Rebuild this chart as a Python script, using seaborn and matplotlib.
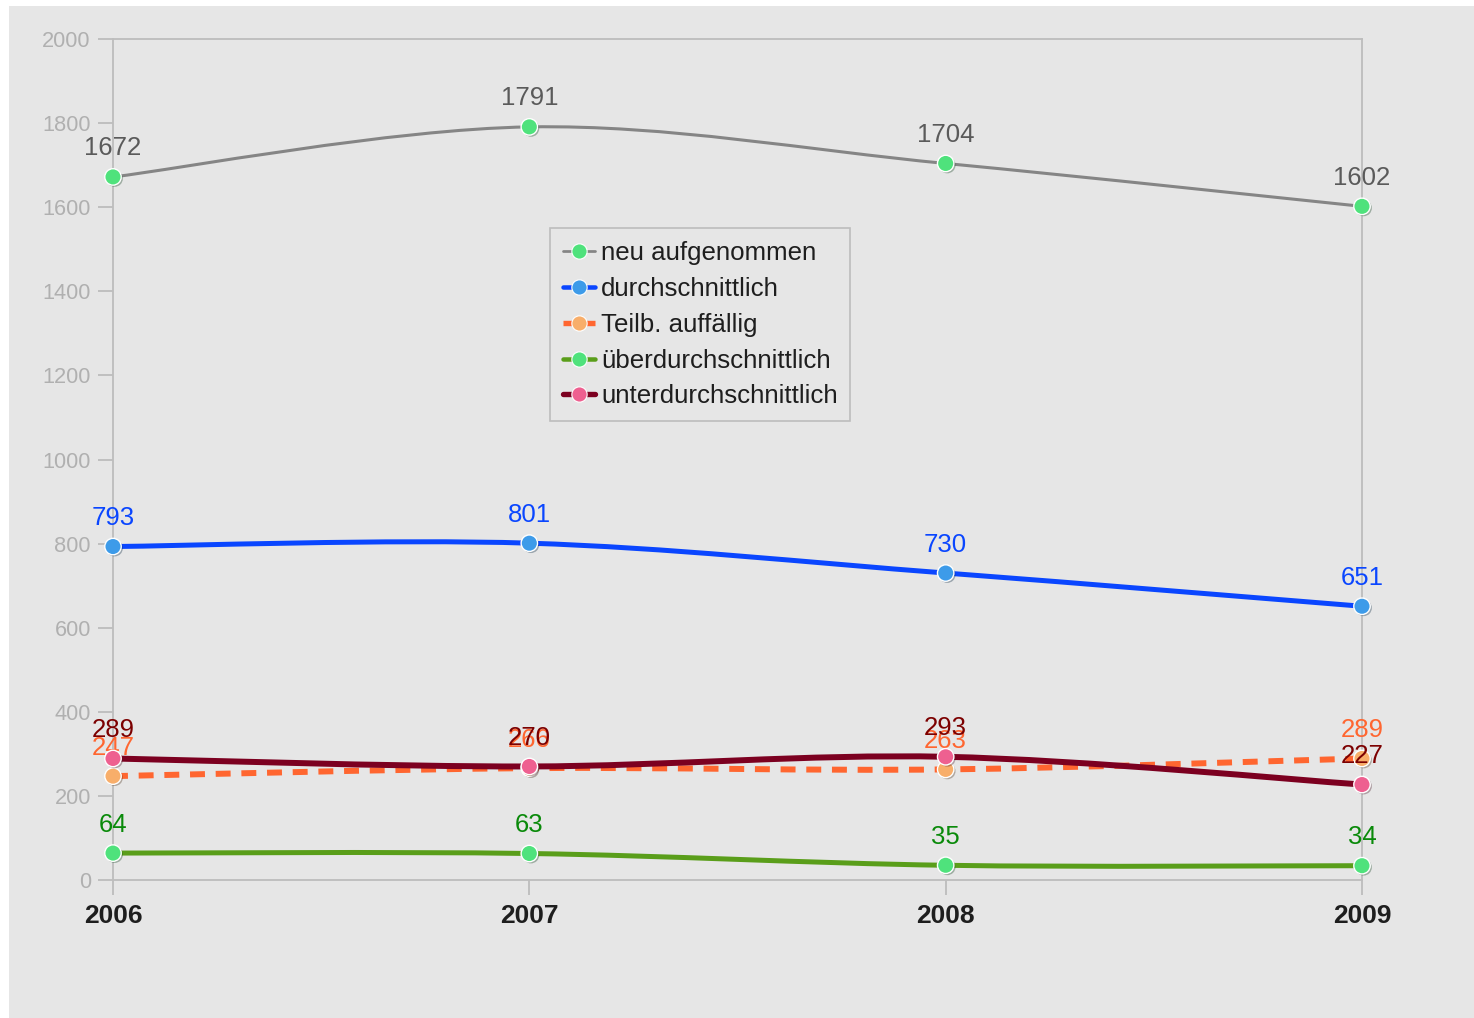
import numpy as np
import pandas as pd
import seaborn as sns
import matplotlib.pyplot as plt
from matplotlib.path import Path
from matplotlib.patches import PathPatch, Rectangle
from matplotlib.lines import Line2D
import matplotlib.patheffects as pe

# data
years = [2006, 2007, 2008, 2009]
series_names = ["neu aufgenommen", "durchschnittlich", "Teilb. auffällig",
                "überdurchschnittlich", "unterdurchschnittlich"]
neu_aufgenommen = [1672, 1791, 1704, 1602]
durchschnittlich = [793, 801, 730, 651]
teilb_auffaellig = [247, 266, 263, 289]
ueberdurchschnittlich = [64, 63, 35, 34]
unterdurchschnittlich = [289, 270, 293, 227]
y_ticks = list(range(0, 2001, 200))

values = [neu_aufgenommen, durchschnittlich, teilb_auffaellig,
          ueberdurchschnittlich, unterdurchschnittlich]

# styles per series
line_colors = ["#858585", "#0a46ff", "#ff6630", "#5a9e1a", "#7c0020"]
marker_colors = ["#4fe27c", "#3d9be9", "#f8ae6a", "#4fe27c", "#ee6090"]
label_colors = ["#5a5a5a", "#0a46ff", "#ff6630", "#0a8a0a", "#7c0000"]
line_widths = [2.2, 3.6, 4.3, 3.6, 4.3]
line_styles = ["-", "-", (0, (2.5, 1.8)), "-", "-"]

df = pd.DataFrame({
    "year": years * len(series_names),
    "value": sum(values, []),
    "series": [s for s in series_names for _ in years],
})

sns.set_style("white")
plt.rcParams["font.family"] = ["Liberation Sans", "DejaVu Sans"]

bg = "#e6e6e6"
fig = plt.figure(figsize=(14.74, 10.18), dpi=100, facecolor="white")
fig.patches.append(Rectangle((9 / 1474, 0), 1, 1 - 6 / 1018, transform=fig.transFigure,
                             facecolor=bg, edgecolor="none", zorder=-10))
ax = fig.add_axes([113 / 1474, 138 / 1018, 1249 / 1474, 841 / 1018])
ax.set_facecolor(bg)


def smooth_path(xs, ys):
    # Catmull-Rom style bezier through the data points
    pts = np.column_stack([xs, ys]).astype(float)
    verts = [pts[0]]
    codes = [Path.MOVETO]
    n = len(pts)
    for i in range(n - 1):
        p0 = pts[i - 1] if i > 0 else pts[i]
        p1 = pts[i]
        p2 = pts[i + 1]
        p3 = pts[i + 2] if i + 2 < n else pts[i + 1]
        c1 = p1 + (p2 - p0) / 6
        c2 = p2 - (p3 - p1) / 6
        verts += [c1, c2, p2]
        codes += [Path.CURVE4] * 3
    return Path(verts, codes)


shadow = [pe.SimplePatchShadow(offset=(1.2, -1.2), alpha=0.35), pe.Normal()]

for i, name in enumerate(series_names):
    patch = PathPatch(smooth_path(years, values[i]), facecolor="none",
                      edgecolor=line_colors[i], lw=line_widths[i],
                      linestyle=line_styles[i], capstyle="butt",
                      zorder=2 + i, clip_on=False)
    ax.add_patch(patch)

for i, name in enumerate(series_names):
    sub = df[df["series"] == name]
    sns.scatterplot(data=sub, x="year", y="value", ax=ax, s=140,
                    color=marker_colors[i], edgecolor="white", linewidth=1.0,
                    zorder=10 + i, clip_on=False, legend=False,
                    path_effects=shadow)
    for x, v in zip(years, values[i]):
        ax.annotate(str(v), (x, v), xytext=(0, 15.5), textcoords="offset points",
                    ha="center", va="baseline", fontsize=18.5,
                    color=label_colors[i], zorder=8 + i, annotation_clip=False)

ax.set_xlim(2006, 2009)
ax.set_ylim(0, 2000)
ax.set_xticks(years)
ax.set_xticklabels([str(y) for y in years], fontsize=19, fontweight="bold",
                   color="#1e1e1e")
ax.set_yticks(y_ticks)
ax.set_yticklabels([str(t) for t in y_ticks], fontsize=15.7, color="#b0b0b0")
ax.tick_params(axis="both", direction="out", length=11, width=1.3,
               color="#bdbdbd", left=True, bottom=True)
ax.tick_params(axis="x", pad=6)
ax.tick_params(axis="y", pad=5)
ax.set_xlabel("")
ax.set_ylabel("")
for sp in ax.spines.values():
    sp.set_visible(True)
    sp.set_color("#bdbdbd")
    sp.set_linewidth(1.3)

handles = [Line2D([0], [0], color=line_colors[i], lw=line_widths[i] * 0.9,
                  linestyle=line_styles[i], marker="o", markersize=11,
                  markerfacecolor=marker_colors[i], markeredgecolor="white",
                  markeredgewidth=0.8)
           for i in range(len(series_names))]
leg = ax.legend(handles, series_names, loc="upper left",
                bbox_to_anchor=((550 - 113) / 1249, (880 - 228) / 841),
                borderaxespad=0, fontsize=18.6, frameon=True, fancybox=False,
                facecolor=bg, edgecolor="#bdbdbd", framealpha=1,
                handlelength=1.25, handletextpad=0.22, labelspacing=0.46,
                borderpad=0.5)
leg.get_frame().set_linewidth(1.2)
for t in leg.get_texts():
    t.set_color("#1e1e1e")

fig.savefig("out.png", dpi=100, facecolor=fig.get_facecolor())
